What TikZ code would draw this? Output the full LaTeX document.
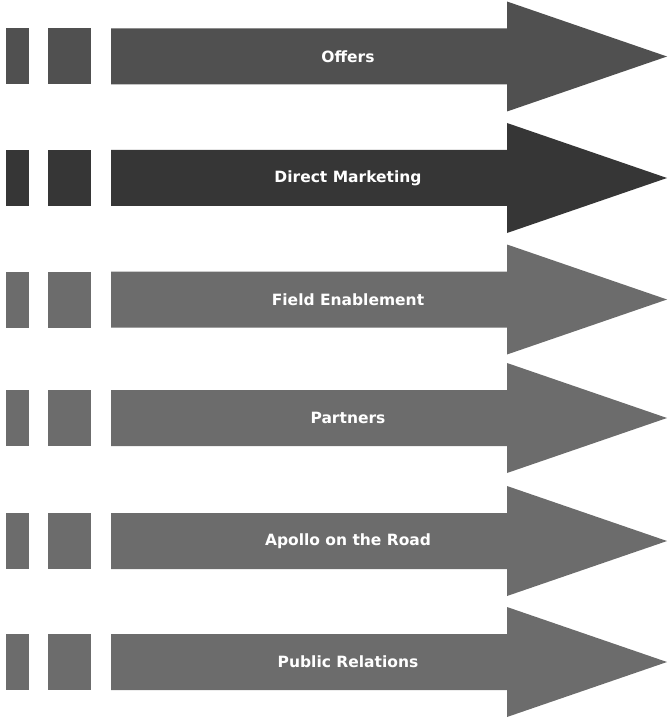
\documentclass[tikz,border=0pt]{standalone}
\usepackage{fontspec}
\setmainfont{DejaVu Sans}
\definecolor{rowdark}{HTML}{505050}
\definecolor{rowdarker}{HTML}{363636}
\definecolor{rowmid}{HTML}{6C6C6C}
\begin{document}
\begin{tikzpicture}[x=1pt,y=-1pt,
  block/.style={fill=#1,draw=none},
  label/.style={text=white,font=\bfseries\fontsize{15.5}{18}\selectfont,inner sep=0pt}]
\useasboundingbox (0,0) rectangle (668,719);
\foreach \name/\yc/\col/\txt in {
    offers/56.5/rowdark/Offers,
    direct/178/rowdarker/Direct Marketing,
    field/299.5/rowmid/Field Enablement,
    partners/418/rowmid/Partners,
    apollo/541/rowmid/Apollo on the Road,
    public/662/rowmid/Public Relations} {
  % two tabs on the left
  \fill[block=\col] (6,\yc-28) rectangle (29,\yc+28);
  \fill[block=\col] (48,\yc-28) rectangle (91,\yc+28);
  % long arrow
  \fill[block=\col] (111,\yc-28) -- (507,\yc-28) -- (507,\yc-55)
        -- (667,\yc) -- (507,\yc+55) -- (507,\yc+28) -- (111,\yc+28) -- cycle;
  \node[label] (\name) at (348,\yc) {\txt};
}
\end{tikzpicture}
\end{document}
